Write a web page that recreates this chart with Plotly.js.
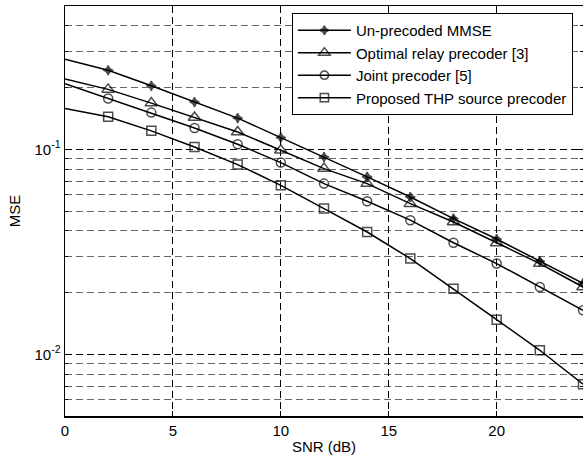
<!DOCTYPE html>
<html><head><meta charset="utf-8">
<script src="https://cdn.plot.ly/plotly-3.0.1.min.js"></script>
<style>html,body{margin:0;padding:0;background:#fff}#chart{width:583px;height:464px}</style>
</head><body><div id="chart"></div>
<script>
var snr = [0, 2, 4, 6, 8, 10, 12, 14, 16, 18, 20, 22, 24];
var unprecoded = [0.275, 0.243, 0.204, 0.170, 0.142, 0.114, 0.0917, 0.0733, 0.0585, 0.0459, 0.0365, 0.0284, 0.0222];
var optimalRelay = [0.220, 0.196, 0.168, 0.143, 0.1214, 0.0989, 0.0805, 0.068, 0.0543, 0.0442, 0.0349, 0.0277, 0.0213];
var jointPrecoder = [0.209, 0.177, 0.151, 0.127, 0.1058, 0.0861, 0.068, 0.0558, 0.0451, 0.0350, 0.0277, 0.0213, 0.0164];
var proposedTHP = [0.158, 0.144, 0.123, 0.1026, 0.0842, 0.0667, 0.0514, 0.0395, 0.0293, 0.0209, 0.01476, 0.01046, 0.00714];
var seriesNames = ['Un-precoded MMSE', 'Optimal relay precoder [3]', 'Joint precoder [5]', 'Proposed THP source precoder'];
var majorTicks = [0.01, 0.1];
var majorLabels = ['10<sup>-2</sup>', '10<sup>-1</sup>'];
var minorTicks = [0.005, 0.006, 0.007, 0.008, 0.009, 0.02, 0.03, 0.04, 0.05, 0.06, 0.07, 0.08, 0.09, 0.2, 0.3, 0.4, 0.5];

function sizes(s) { return snr.map(function (x, i) { return i === 0 ? 0 : s; }); }
var symbols = ['star-diamond', 'triangle-up-open', 'circle-open', 'square-open'];
var msizes = [7, 11, 9, 9];
var datasets = [unprecoded, optimalRelay, jointPrecoder, proposedTHP];
var traces = datasets.map(function (d, k) {
  return {
    x: snr, y: d, name: seriesNames[k], type: 'scatter', mode: 'lines+markers',
    line: {color: '#000', width: 1.5},
    marker: {symbol: symbols[k], size: sizes(msizes[k]), color: '#000', line: {color: '#000', width: 1.5}},
    cliponaxis: false
  };
});

var layout = {
  width: 583, height: 464,
  margin: {l: 65, r: 0, t: 6, b: 48},
  paper_bgcolor: '#fff', plot_bgcolor: '#fff',
  font: {family: 'Liberation Sans, Arial, sans-serif', size: 15, color: '#000'},
  showlegend: true,
  legend: {x: 0.438, y: 0.983, xanchor: 'left', yanchor: 'top', bgcolor: '#fff', bordercolor: '#000', borderwidth: 1,
    font: {size: 15}, tracegroupgap: 0, itemwidth: 53},
  xaxis: {
    range: [0, 24], tickvals: [0, 5, 10, 15, 20], ticktext: ['0', '5', '10', '15', '20'],
    showgrid: true, gridcolor: '#000', gridwidth: 1, griddash: '7px,4px',
    showline: true, linecolor: '#000', linewidth: 1.5, mirror: 'ticks', ticks: 'inside', ticklen: 5, tickcolor: '#000',
    zeroline: false, title: {text: 'SNR (dB)', standoff: 4, font: {size: 15}}
  },
  yaxis: {
    type: 'log', range: [Math.log10(0.005), Math.log10(0.5)],
    tickmode: 'array', tickvals: majorTicks, ticktext: majorLabels,
    showgrid: true, gridcolor: '#000', gridwidth: 1, griddash: '7px,4px',
    minor: {tickmode: 'array', tickvals: minorTicks, showgrid: true, gridcolor: '#666', gridwidth: 1, griddash: '7px,4px', ticks: 'inside', ticklen: 3, tickcolor: '#000'},
    showline: true, linecolor: '#000', linewidth: 1.5, mirror: 'ticks', ticks: 'inside', ticklen: 5, tickcolor: '#000',
    zeroline: false, title: {text: 'MSE', standoff: 10, font: {size: 15}}
  }
};
Plotly.newPlot('chart', traces, layout, {staticPlot: true, displayModeBar: false});
</script></body></html>
